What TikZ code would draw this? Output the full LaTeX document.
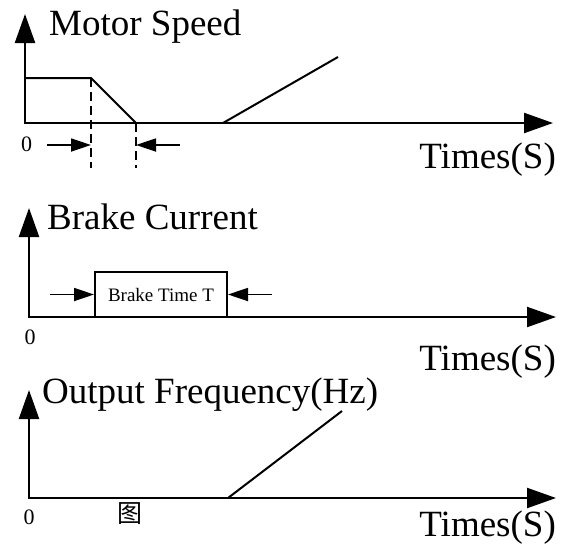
\documentclass[tikz,border=0pt]{standalone}
\usepackage{fontspec}
\setmainfont{Liberation Serif}
\newfontfamily\cjkfont{Noto Sans CJK SC}
\usetikzlibrary{arrows.meta}
\begin{document}
\begin{tikzpicture}[x=1pt,y=-1pt,
  axis/.style={line width=2.2pt,{Triangle[length=29pt,width=20pt]}-{Triangle[length=29pt,width=20pt]}},
  curve/.style={line width=2pt},
  dimarrow/.style={line width=1.8pt,-{Triangle[length=20pt,width=13pt]}},
  guide/.style={line width=1.8pt,dash pattern=on 9pt off 5pt},
  big/.style={font=\fontsize{37}{40}\selectfont,inner sep=0pt},
  small/.style={font=\fontsize{19}{22}\selectfont,inner sep=0pt},
  zero/.style={font=\fontsize{22}{24}\selectfont,inner sep=0pt}]
\useasboundingbox (0,0) rectangle (564,544);

% ---------- panel 1: motor speed ----------
\coordinate (o1) at (25,123);
\coordinate (y1) at (25,14);
\coordinate (x1) at (553,123);
\draw[axis] (y1) -- (o1) -- (x1);
\coordinate (s1) at (25,78);
\coordinate (s2) at (91,78);
\coordinate (s3) at (136,123);
\draw[curve] (s1) -- (s2) -- (s3);
\coordinate (r1) at (223,123);
\coordinate (r2) at (338,57);
\draw[curve] (r1) -- (r2);
\coordinate (d1) at (91,168);
\coordinate (d2) at (136,168);
\draw[guide] (s2) -- (d1);
\draw[guide] (s3) -- (d2);
\coordinate (a1) at (47,145);
\coordinate (a2) at (91,145);
\coordinate (a3) at (180,145);
\coordinate (a4) at (136,145);
\draw[dimarrow] (a1) -- (a2);
\draw[dimarrow] (a3) -- (a4);
\node[zero] (z1) at (26.5,144.5) {0};
\node[big,anchor=base west] (t1) at (49,35) {Motor Speed};
\node[big,anchor=base east] (ts1) at (556,168) {Times(S)};

% ---------- panel 2: brake current ----------
\coordinate (o2) at (29,317);
\coordinate (y2) at (29,208);
\coordinate (x2) at (556,317);
\draw[axis] (y2) -- (o2) -- (x2);
\node[small,draw,line width=2pt,minimum width=132pt,minimum height=45pt] (box) at (161,294.5) {Brake Time T};
\coordinate (b1) at (50,294.5);
\coordinate (b2) at (272,294.5);
\draw[dimarrow] (b1) -- (box.west);
\draw[dimarrow] (b2) -- (box.east);
\node[zero] (z2) at (30,337) {0};
\node[big,anchor=base west] (t2) at (47,229) {Brake Current};
\node[big,anchor=base east] (ts2) at (556,370) {Times(S)};

% ---------- panel 3: output frequency ----------
\coordinate (o3) at (29,498);
\coordinate (y3) at (29,390);
\coordinate (x3) at (556,498);
\draw[axis] (y3) -- (o3) -- (x3);
\coordinate (f1) at (228,498);
\coordinate (f2) at (342,411);
\draw[curve] (f1) -- (f2);
\node[zero] (z3) at (29,517) {0};
\node[font=\cjkfont\fontsize{25}{27}\selectfont,inner sep=0pt] (fig) at (130,514) {图};
\node[big,anchor=base west] (t3) at (42,403) {Output Frequency(Hz)};
\node[big,anchor=base east] (ts3) at (556,536) {Times(S)};
\end{tikzpicture}
\end{document}
